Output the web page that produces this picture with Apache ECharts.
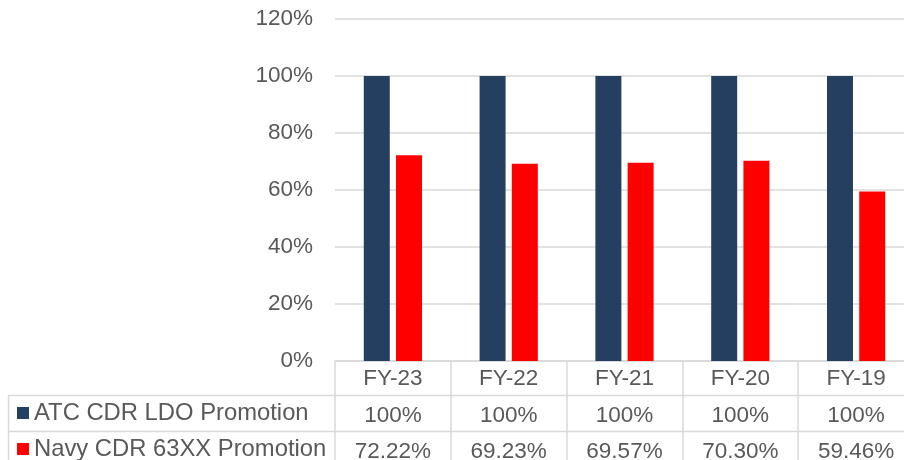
<!DOCTYPE html>
<html>
<head>
<meta charset="utf-8">
<script src="https://cdn.jsdelivr.net/npm/echarts@6/dist/echarts.min.js"></script>
<style>
  html, body { margin: 0; padding: 0; background: #fff; }
  #chart { width: 904px; height: 460px; }
</style>
</head>
<body>
<div id="chart"></div>
<script>
// Fiscal years, newest first
const years = ['FY-23', 'FY-22', 'FY-21', 'FY-20', 'FY-19'];
// Promotion rates (fractions)
const atcLdo = [1.00, 1.00, 1.00, 1.00, 1.00];
const navy63xx = [0.7222, 0.6923, 0.6957, 0.7030, 0.5946];
// Series names
const seriesNames = ['ATC CDR LDO Promotion', 'Navy CDR 63XX Promotion'];
// Value-axis ticks
const yTicks = [0, 0.2, 0.4, 0.6, 0.8, 1.0, 1.2];

const FONT = 'Liberation Sans, Arial, sans-serif';
const TXT = '#595959';
const LINE = '#d9d9d9';

function pctWhole(v) { return Math.round(v * 100) + '%'; }
function pct2(v) { return v === 1 ? '100%' : (v * 100).toFixed(2) + '%'; }

const chart = echarts.init(document.getElementById('chart'), null, { renderer: 'canvas' });

const labelBase = { fontFamily: FONT, fontSize: 22.5, color: TXT };
const legendText = { fontFamily: FONT, fontSize: 23.8, color: TXT };

chart.setOption({
  animation: false,
  grid: { left: 335, top: 19, width: 579, height: 342, containLabel: false, outerBoundsMode: 'none' },
  legend: [
    {
      left: 17, top: 401, padding: 0,
      itemWidth: 12, itemHeight: 12, icon: 'rect',
      textStyle: legendText,
      data: [seriesNames[0]]
    },
    {
      left: 17, top: 437, padding: 0,
      itemWidth: 12, itemHeight: 12, icon: 'rect',
      textStyle: legendText,
      data: [seriesNames[1]]
    }
  ],
  xAxis: [
    {
      type: 'category',
      data: years,
      axisLine: { show: true, lineStyle: { color: LINE, width: 1.5 } },
      axisTick: { show: true, interval: 0, length: 100, lineStyle: { color: LINE, width: 1.5 } },
      axisLabel: Object.assign({ margin: 6, interval: 0 }, labelBase)
    },
    {
      // data-table row: ATC CDR LDO
      type: 'category',
      data: years,
      position: 'bottom',
      offset: 35,
      axisLine: { show: false },
      axisTick: { show: false },
      axisLabel: Object.assign({ margin: 8, interval: 0, formatter: (v, i) => pct2(atcLdo[i]) }, labelBase)
    },
    {
      // data-table row: Navy CDR 63XX
      type: 'category',
      data: years,
      position: 'bottom',
      offset: 70,
      axisLine: { show: false },
      axisTick: { show: false },
      axisLabel: Object.assign({ margin: 9, interval: 0, formatter: (v, i) => pct2(navy63xx[i]) }, labelBase)
    }
  ],
  yAxis: {
    type: 'value',
    min: yTicks[0],
    max: yTicks[yTicks.length - 1],
    interval: 0.2,
    axisLine: { show: false },
    axisTick: { show: false },
    splitLine: { lineStyle: { color: LINE, width: 1.5 } },
    axisLabel: Object.assign({ margin: 22, formatter: pctWhole }, labelBase)
  },
  series: [
    {
      name: seriesNames[0],
      type: 'bar',
      data: atcLdo,
      barWidth: 26,
      barGap: '24%',
      itemStyle: { color: '#243f60' }
    },
    {
      name: seriesNames[1],
      type: 'bar',
      data: navy63xx,
      barWidth: 26,
      itemStyle: { color: '#ff0000' }
    }
  ],
  graphic: [
    // data-table borders
    { type: 'line', shape: { x1: 8, y1: 395.5, x2: 914, y2: 395.5 }, style: { stroke: LINE, lineWidth: 1.5 } },
    { type: 'line', shape: { x1: 8, y1: 431.5, x2: 914, y2: 431.5 }, style: { stroke: LINE, lineWidth: 1.5 } },
    { type: 'line', shape: { x1: 8.5, y1: 395, x2: 8.5, y2: 470 }, style: { stroke: LINE, lineWidth: 1.5 } }
  ]
});
</script>
</body>
</html>
